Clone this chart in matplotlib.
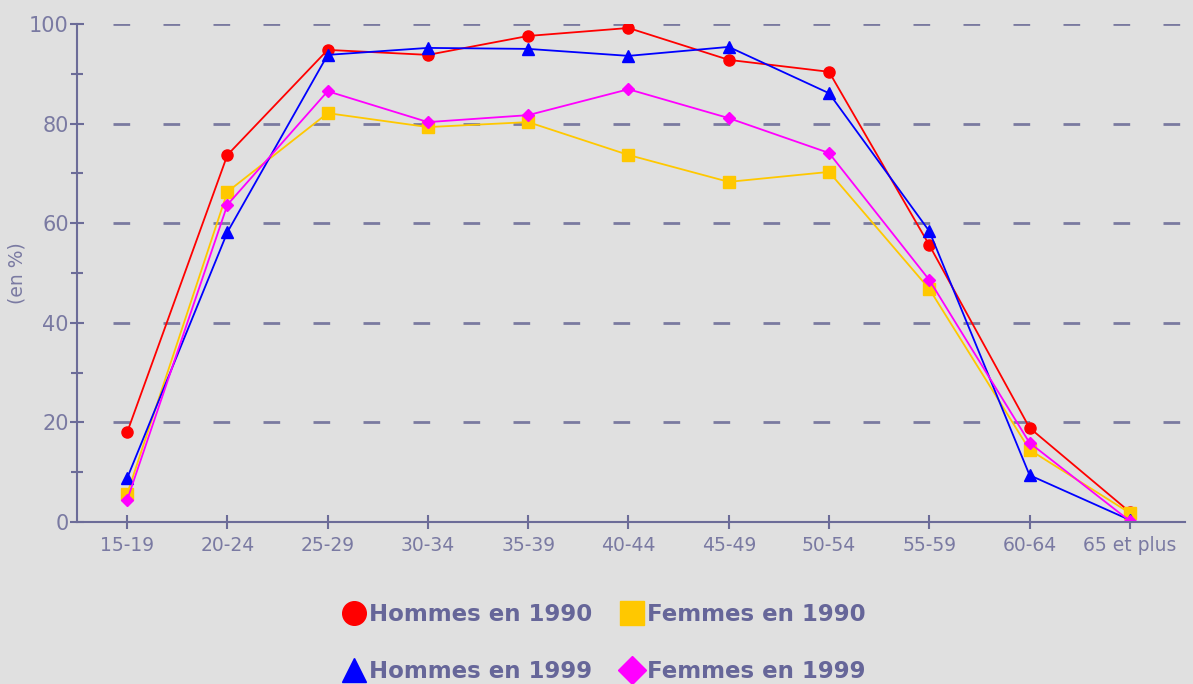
import matplotlib.pyplot as plt
from matplotlib.lines import Line2D
from matplotlib.ticker import MultipleLocator

ages = ['15-19', '20-24', '25-29', '30-34', '35-39', '40-44',
        '45-49', '50-54', '55-59', '60-64', '65 et plus']
hommes_1990 = [18.0, 73.7, 94.8, 93.8, 97.6, 99.2, 92.8, 90.4, 55.6, 18.9, 2.0]
femmes_1990 = [5.6, 66.3, 82.1, 79.3, 80.3, 73.7, 68.3, 70.3, 46.8, 14.5, 1.8]
hommes_1999 = [8.8, 58.2, 93.8, 95.2, 95.0, 93.6, 95.4, 86.1, 58.4, 9.4, 0.4]
femmes_1999 = [4.4, 63.7, 86.5, 80.3, 81.7, 86.9, 81.1, 74.1, 48.6, 15.9, 0.2]

bg = '#e0e0e0'
axc = '#6c6c98'
txt = '#7a7aa2'

fig = plt.figure(figsize=(11.93, 6.84), dpi=100, facecolor=bg)
ax = fig.add_axes([77/1193, 162/684, (1185-77)/1193, 498/684])
ax.set_facecolor(bg)

x = list(range(len(ages)))
series = [
    (hommes_1990, '#ff0000', 'o', 8, 'Hommes en 1990'),
    (femmes_1990, '#ffc800', 's', 9, 'Femmes en 1990'),
    (hommes_1999, '#0000ff', '^', 8, 'Hommes en 1999'),
    (femmes_1999, '#ff00ff', 'D', 6.5, 'Femmes en 1999'),
]
for vals, c, m, ms, lab in series:
    ax.plot(x, vals, color=c, lw=1.3, marker=m, ms=ms, mec=c, mfc=c, zorder=3)

ax.set_xlim(-0.5, 10.55)
ax.set_ylim(0, 100)
ax.set_xticks(x)
ax.set_xticklabels(ages, color=txt, fontsize=13.5)
ax.yaxis.set_major_locator(MultipleLocator(20))
ax.yaxis.set_minor_locator(MultipleLocator(10))
ax.tick_params(axis='y', which='major', direction='inout', length=10, width=1.5,
               color=axc, labelcolor=txt, labelsize=15, pad=1)
ax.tick_params(axis='y', which='minor', direction='inout', length=8, width=1.5, color=axc)
ax.tick_params(axis='x', direction='inout', length=10, width=1.5, color=axc, pad=5)

# dashed horizontal grid, starting a little right of the axis like the original
ax.hlines([20, 40, 60, 80, 100], -0.14, 10.55, colors='#7a7aa0', lw=2,
          linestyles=(0, (6, 12)), zorder=1)

for s in ['top', 'right']:
    ax.spines[s].set_visible(False)
for s in ['left', 'bottom']:
    ax.spines[s].set_color(axc)
    ax.spines[s].set_linewidth(1.5)
ax.spines['bottom'].set_zorder(4)

ax.set_ylabel('(en %)', color=txt, fontsize=13.5, labelpad=2)

# order so that ncol=2 gives rows: 1990 pair, then 1999 pair
order = [0, 2, 1, 3]
handles = []
for i in order:
    vals, c, m, ms, lab = series[i]
    handles.append(Line2D([], [], ls='none', marker=m, color=c,
                          ms=17 if m != 'D' else 14, label=lab))
leg = fig.legend(handles=handles, loc='center', bbox_to_anchor=(0.505, 0.06), ncol=2,
                 frameon=False, handletextpad=0.0, columnspacing=1.1, labelspacing=1.5,
                 handlelength=1.3, prop={'weight': 'bold', 'size': 16.5})
for t in leg.get_texts():
    t.set_color('#666699')

fig.savefig('out.png', dpi=100, facecolor=bg)
